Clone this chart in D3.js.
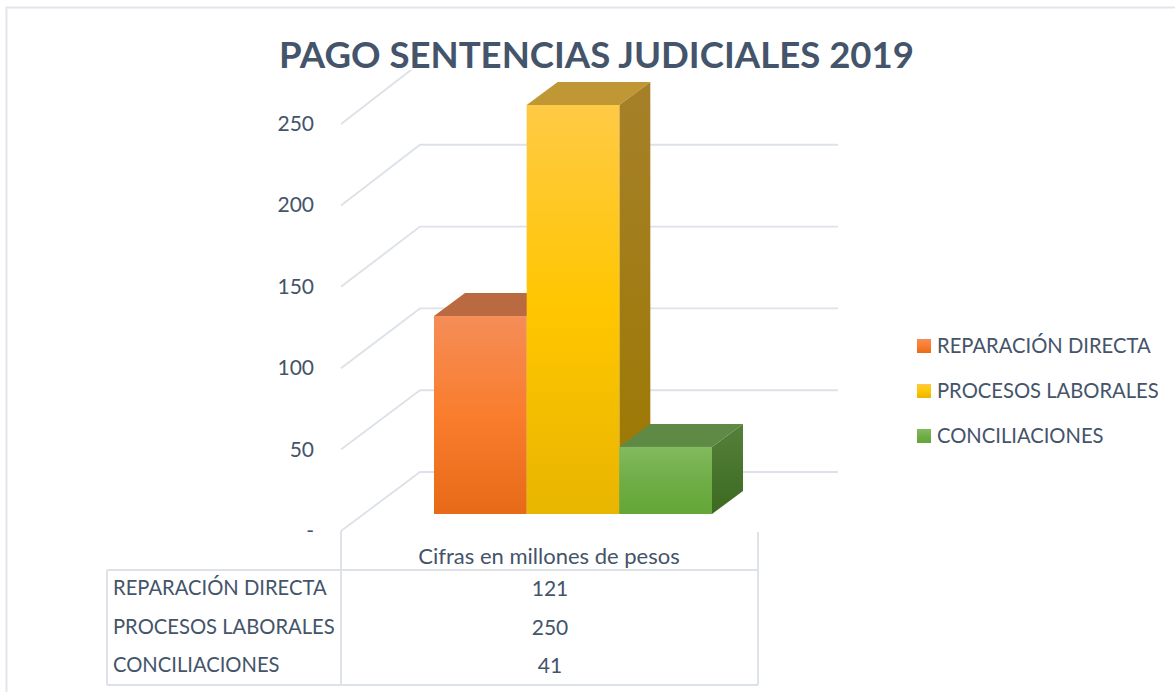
<!DOCTYPE html>
<html><head><meta charset="utf-8">
<script src="https://cdn.jsdelivr.net/npm/d3@7"></script>
<style>html,body{margin:0;padding:0;background:#fff}svg{display:block}text{font-family:Lato,"Open Sans",sans-serif;fill:#44546a}</style>
</head><body><svg id="c" width="1175" height="692"></svg>
<script>
const categories=["REPARACIÓN DIRECTA","PROCESOS LABORALES","CONCILIACIONES"];
const values=[121,250,41];
const yTicks=[0,50,100,150,200,250];
const yTickLabels=["-","50","100","150","200","250"];
const title="PAGO SENTENCIAS JUDICIALES 2019";
const tableHeader="Cifras en millones de pesos";
const front=[["#f58d58","#f97d2d","#e66a17"],["#ffca45","#ffc600","#e8b500"],["#82bb5e","#70ad47","#63a636"]];
const topC=["#b96a40","#c09735","#5f8a46"];
const sideTop=["#a8642f","#a68029","#55803c"];
const sideBot=["#8a4c1a","#9c7800","#3c6a20"];

const svg=d3.select("#c");
const defs=svg.append("defs");
const grid="#dde2e9";
svg.append("rect").attr("x",6.5).attr("y",7.5).attr("width",1200).attr("height",700).attr("fill","none").attr("stroke","#e1e6eb").attr("stroke-width",2);

const yAxisScale=d3.scaleLinear().domain([0,250]).range([531,124]);
const yBack=d3.scaleLinear().domain([0,250]).range([472,63]);
const yBar=d3.scaleLinear().domain([0,250]).range([514,105]);
const xBand=d3.scaleBand().domain(categories).range([434,712]);
const ddx=31,ddy=-23;
const xL=341,xB=420,xR=838;

defs.append("clipPath").attr("id","pl").append("rect").attr("x",330).attr("y",70).attr("width",520).attr("height",480);
const g=svg.append("g").attr("clip-path","url(#pl)").attr("fill","none").attr("stroke",grid).attr("stroke-width",1.9);
yTicks.forEach(t=>{
  const p=d3.path();p.moveTo(xL,yAxisScale(t));p.lineTo(xB,yBack(t));
  if(t<250)p.lineTo(xR,yBack(t));
  g.append("path").attr("d",p.toString());
});

svg.append("g").selectAll("text").data(yTicks).join("text")
  .attr("x",314).attr("text-anchor","end").attr("y",d=>yAxisScale(d)+7)
  .attr("font-size",21).text((d,i)=>yTickLabels[i]);

categories.forEach((c,i)=>{
  const gf=defs.append("linearGradient").attr("id","f"+i).attr("x1",0).attr("y1",0).attr("x2",0).attr("y2",1);
  front[i].forEach((col,k)=>gf.append("stop").attr("offset",k/2).attr("stop-color",col));
  const gs=defs.append("linearGradient").attr("id","s"+i).attr("x1",0).attr("y1",0).attr("x2",0).attr("y2",1);
  gs.append("stop").attr("offset",0).attr("stop-color",sideTop[i]);
  gs.append("stop").attr("offset",1).attr("stop-color",sideBot[i]);
  const lg=defs.append("linearGradient").attr("id","l"+i).attr("x1",0).attr("y1",0).attr("x2",0).attr("y2",1);
  front[i].forEach((col,k)=>lg.append("stop").attr("offset",k/2).attr("stop-color",col));
});
const bars=svg.append("g");
categories.forEach((c,i)=>{
  const x0=xBand(c),x1=x0+xBand.bandwidth(),yt=yBar(values[i]),yb=yBar(0);
  const b=bars.append("g");
  b.append("path").attr("d",d3.line()([[x0,yt],[x0+ddx,yt+ddy],[x1+ddx,yt+ddy],[x1,yt]])).attr("fill",topC[i]);
  b.append("path").attr("d",d3.line()([[x1,yt],[x1+ddx,yt+ddy],[x1+ddx,yb+ddy],[x1,yb]])).attr("fill","url(#s"+i+")");
  b.append("rect").attr("x",x0).attr("y",yt).attr("width",x1-x0).attr("height",yb-yt).attr("fill","url(#f"+i+")");
});

const t=svg.append("g").attr("stroke",grid).attr("stroke-width",1.9).attr("fill","none");
[[341,531,341,685],[758,532,758,685],[107,570,758,570],[107,685,758,685],[107,570,107,685]].forEach(l=>
  t.append("line").attr("x1",l[0]).attr("y1",l[1]).attr("x2",l[2]).attr("y2",l[3]));
svg.append("text").attr("x",549).attr("y",564).attr("text-anchor","middle").attr("font-size",22).text(tableHeader);
const rowY=d3.scalePoint().domain(categories).range([595,672]);
categories.forEach((c,i)=>{
  svg.append("text").attr("x",113).attr("y",rowY(c)).attr("font-size",20.2).text(c);
  svg.append("text").attr("x",550).attr("y",rowY(c)+1).attr("text-anchor","middle").attr("font-size",21).text(values[i]);
});

const legY=d3.scalePoint().domain(categories).range([346,436]);
categories.forEach((c,i)=>{
  svg.append("rect").attr("x",917).attr("y",legY(c)-7).attr("width",14).attr("height",14).attr("fill","url(#l"+i+")");
  svg.append("text").attr("x",937).attr("y",legY(c)+7).attr("font-size",20.2).text(c);
});

svg.append("text").attr("x",596.5).attr("y",68).attr("text-anchor","middle").attr("font-size",36.6).attr("font-weight",700).text(title);
</script></body></html>
